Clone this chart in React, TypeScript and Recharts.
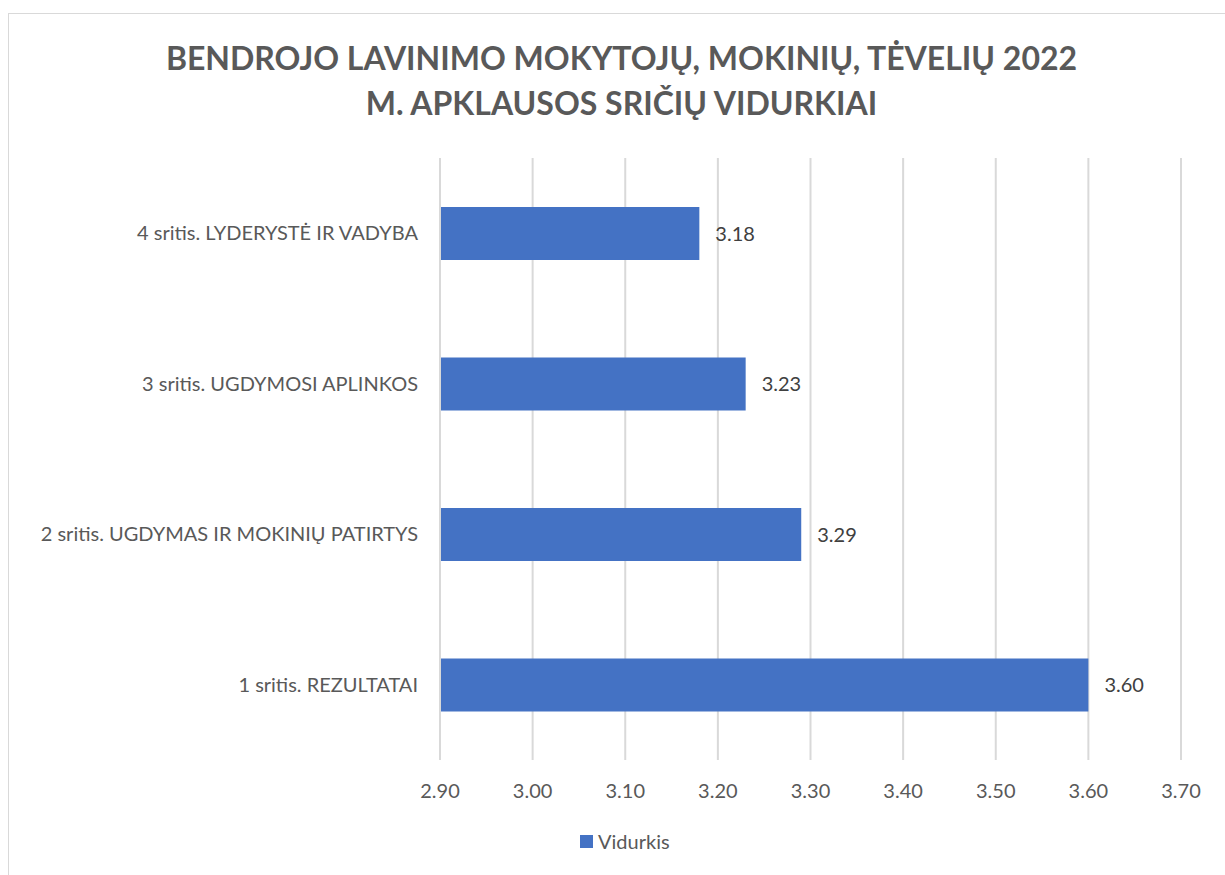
import { BarChart, Bar, XAxis, YAxis, CartesianGrid, LabelList } from "recharts";

const categories = [
    "4 sritis. LYDERYSTĖ IR VADYBA",
    "3 sritis. UGDYMOSI APLINKOS",
    "2 sritis. UGDYMAS IR MOKINIŲ PATIRTYS",
    "1 sritis. REZULTATAI",
];
const averages = [3.18, 3.23, 3.29, 3.6];
const xTicks = [2.9, 3.0, 3.1, 3.2, 3.3, 3.4, 3.5, 3.6, 3.7];
const seriesName = "Vidurkis";

const data = categories.map((name, i) => ({ name, value: averages[i] }));

const FONT = "Lato, 'Open Sans', sans-serif";
const TEXT = "#595959";
const BAR = "#4472C4";

const App = () => {
    return (
        <div
            style={{
                position: "absolute",
                left: 0,
                top: 0,
                width: 1225,
                height: 875,
                background: "#fff",
                overflow: "hidden",
                fontFamily: FONT,
            }}
        >
            {/* chart frame */}
            <div
                style={{
                    position: "absolute",
                    left: 8,
                    top: 13,
                    width: 1240,
                    height: 900,
                    border: "1px solid #D9D9D9",
                }}
            />
            <div
                style={{
                    position: "absolute",
                    left: 0,
                    top: 35,
                    width: 1243,
                    textAlign: "center",
                    color: TEXT,
                    fontWeight: 700,
                    fontSize: 32,
                    lineHeight: "45px",
                }}
            >
                BENDROJO LAVINIMO MOKYTOJŲ, MOKINIŲ, TĖVELIŲ 2022
                <br />
                M. APKLAUSOS SRIČIŲ VIDURKIAI
            </div>
            <div style={{ position: "absolute", left: 0, top: 0 }}>
                <BarChart
                    width={1225}
                    height={875}
                    data={data}
                    layout="vertical"
                    margin={{ top: 158, right: 44, bottom: 75, left: 10 }}
                >
                    <CartesianGrid horizontal={false} stroke="#D9D9D9" strokeWidth={2} />
                    <XAxis
                        type="number"
                        domain={[2.9, 3.7]}
                        ticks={xTicks}
                        tickFormatter={(v: number) => v.toFixed(2)}
                        axisLine={false}
                        tickLine={false}
                        tickMargin={18}
                        height={40}
                        tick={{ fill: TEXT, fontSize: 20, fontFamily: FONT }}
                        allowDataOverflow
                    />
                    <YAxis
                        type="category"
                        dataKey="name"
                        width={430}
                        axisLine={{ stroke: "#D9D9D9", strokeWidth: 2 }}
                        tickLine={false}
                        tickMargin={16}
                        tick={{ fill: TEXT, fontSize: 20, fontFamily: FONT }}
                    />
                    <Bar
                        dataKey="value"
                        name={seriesName}
                        fill={BAR}
                        barSize={53}
                        isAnimationActive={false}
                    >
                        <LabelList
                            dataKey="value"
                            position="right"
                            offset={16}
                            formatter={(v: number) => v.toFixed(2)}
                            style={{ fill: "#404040", fontSize: 20, fontFamily: FONT }}
                        />
                    </Bar>
                </BarChart>
            </div>
            {/* legend */}
            <div
                style={{
                    position: "absolute",
                    left: 580,
                    top: 829,
                    display: "flex",
                    alignItems: "center",
                    gap: 5,
                    color: TEXT,
                    fontSize: 20,
                }}
            >
                <span style={{ display: "inline-block", width: 13, height: 13, background: BAR }} />
                <span>{seriesName}</span>
            </div>
        </div>
    );
};

export default App;
